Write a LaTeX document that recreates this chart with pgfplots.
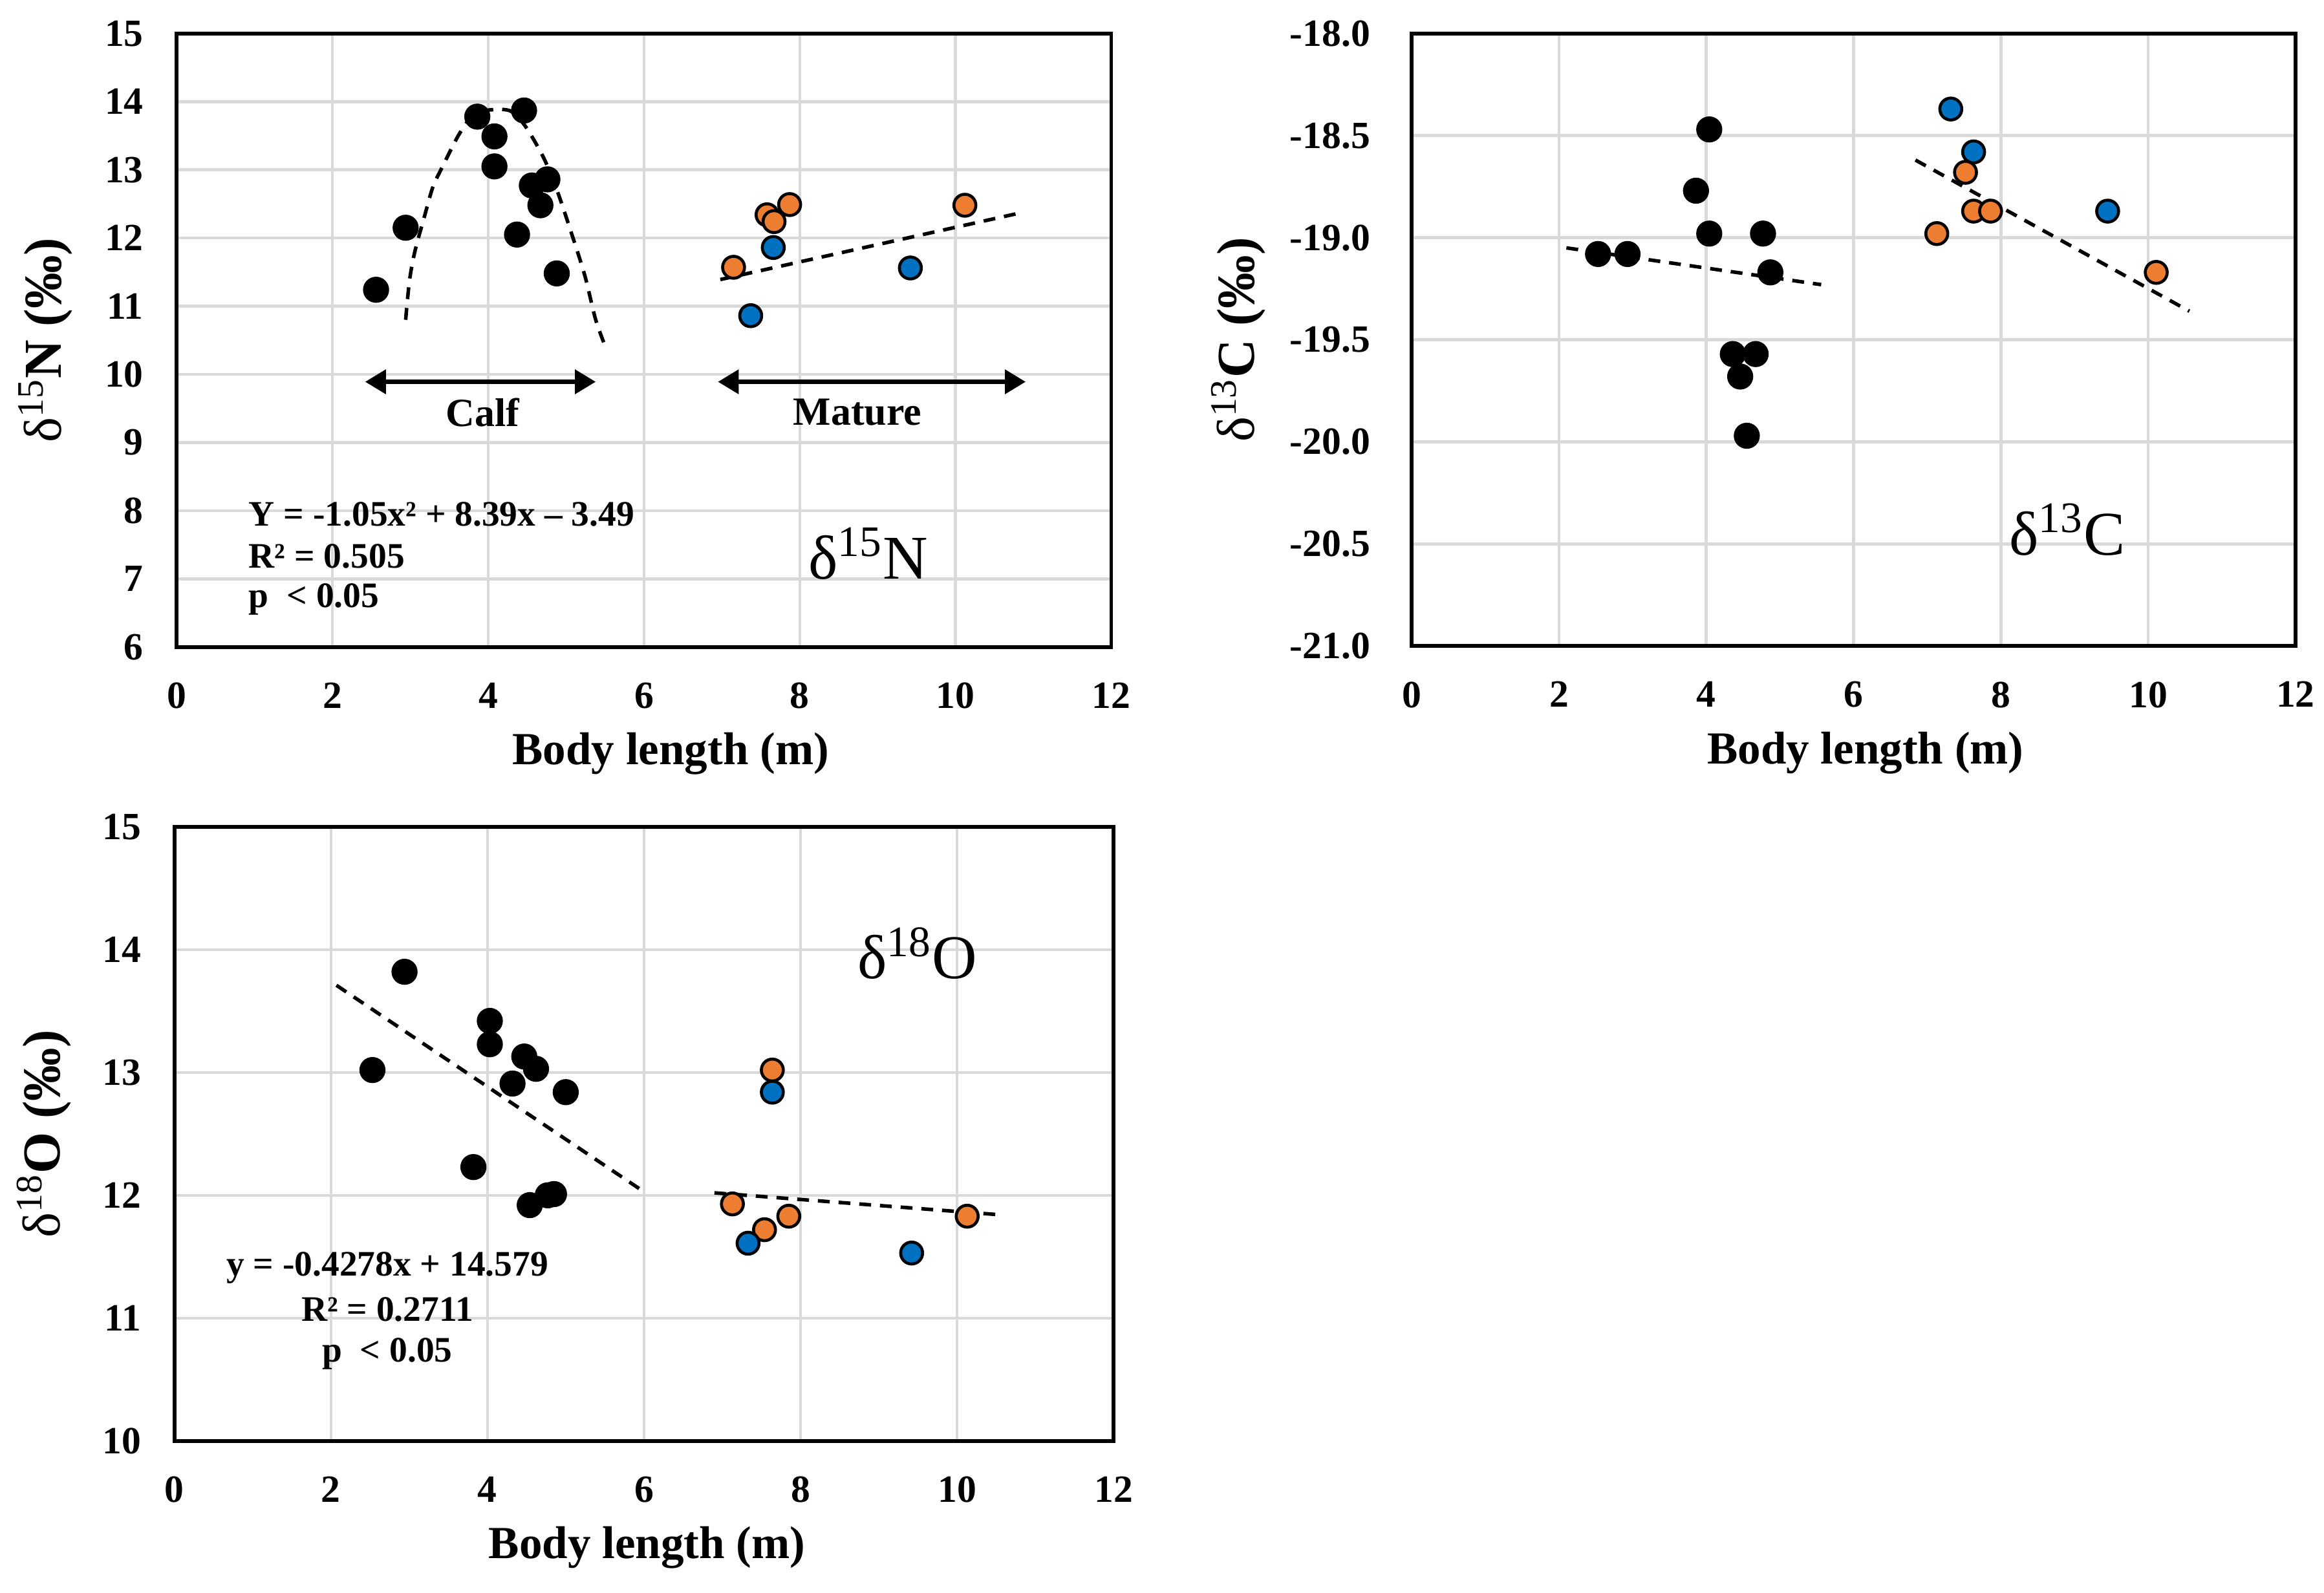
\documentclass[border=0pt]{standalone}
\usepackage{fontspec}
\setmainfont{Liberation Serif}
\usepackage{pgfplots}
\pgfplotsset{compat=1.18}
\usetikzlibrary{arrows.meta}
\definecolor{xorange}{HTML}{ED7D31}
\definecolor{xblue}{HTML}{0070C0}
\definecolor{gridgray}{HTML}{D9D9D9}

\pgfplotsset{
  panel/.style={
    scale only axis,
    axis line style={line width=1.25pt},
    grid=major,
    major grid style={gridgray, line width=1pt},
    major tick length=0pt,
    /pgf/number format/assume math mode=true,
    xmin=0, xmax=12, xtick={0,2,...,12},
    ticklabel style={font=\fontsize{13}{15}\selectfont\bfseries},
    xticklabel style={yshift=-8.5pt},
    xlabel={Body length (m)},
    clip=false,
  },
  xlab/.style={every axis x label/.style={at={(axis description cs:0.5,0)}, anchor=center, yshift=-36pt, xshift=#1,
      font=\fontsize{15.5}{18}\selectfont\bfseries}},
  ylab/.style={every axis y label/.style={at={(axis description cs:#1,0.5)}, rotate=90, anchor=center,
      font=\fontsize{18}{21}\selectfont\bfseries}},
  blk/.style={only marks, mark=*, mark size=4.2pt, mark options={fill=black, draw=black}},
  org/.style={only marks, mark=*, mark size=3.7pt, mark options={fill=xorange, draw=black, line width=1pt}},
  blu/.style={only marks, mark=*, mark size=3.7pt, mark options={fill=xblue, draw=black, line width=1pt}},
  trend/.style={black, line width=1.2pt, dash pattern=on 4pt off 3pt, no marks},
}

\begin{document}
\begin{tikzpicture}
\useasboundingbox (0,0) rectangle (784pt,537.3pt);

% ---------------- Panel 1: d15N ----------------
\begin{axis}[panel, at={(59.6pt,319pt)}, anchor=south west,
  width=315.3pt, height=207pt,
  ymin=6, ymax=15, ytick={6,7,...,15},
  yticklabel style={xshift=-7.7pt},
  xlab=9pt, ylab=-0.1405,
  ylabel={{\mdseries δ\textsuperscript{15}}N (‰)}]
\addplot[trend, smooth, tension=0.5] coordinates {
  (2.94,10.80) (2.99,11.38) (3.06,11.81) (3.18,12.31) (3.29,12.75) (3.41,13.04)
  (3.62,13.51) (3.80,13.80) (3.95,13.87) (4.27,13.87) (4.47,13.65) (4.71,13.18)
  (4.88,12.71) (5.06,12.10) (5.24,11.45) (5.38,10.80) (5.52,10.36)};
\addplot[trend] coordinates {(6.98,11.39) (10.84,12.37)};
\addplot[blk] coordinates {
  (2.56,11.24) (2.94,12.15) (3.86,13.78) (4.46,13.87) (4.08,13.49) (4.08,13.05)
  (4.56,12.77) (4.76,12.86) (4.67,12.48) (4.37,12.05) (4.88,11.48)};
\addplot[org] coordinates {(7.15,11.57) (7.58,12.34) (7.67,12.24) (7.87,12.49) (10.12,12.48)};
\addplot[blu] coordinates {(7.66,11.86) (7.37,10.86) (9.42,11.56)};
\addplot[black, line width=1.5pt, {Triangle[length=7pt,width=8pt]}-{Triangle[length=7pt,width=8pt]}]
  coordinates {(2.42,9.89) (5.38,9.89)};
\addplot[black, line width=1.5pt, {Triangle[length=7pt,width=8pt]}-{Triangle[length=7pt,width=8pt]}]
  coordinates {(6.95,9.89) (10.90,9.89)};
\node[font=\fontsize{13.5}{16}\selectfont\bfseries] at (axis cs:3.93,9.44) {Calf};
\node[font=\fontsize{13.5}{16}\selectfont\bfseries] at (axis cs:8.74,9.44) {Mature};
\node[anchor=west, font=\fontsize{12.1}{14}\selectfont\bfseries, inner sep=0pt] at (axis cs:0.92,7.95) {Y = -1.05x² + 8.39x – 3.49};
\node[anchor=west, font=\fontsize{12.1}{14}\selectfont\bfseries, inner sep=0pt] at (axis cs:0.92,7.33) {R² = 0.505};
\node[anchor=west, font=\fontsize{12.1}{14}\selectfont\bfseries, inner sep=0pt] at (axis cs:0.92,6.70) {p\ \ < 0.05};
\node[font=\fontsize{21}{24}\selectfont] at (axis cs:8.88,7.37) {δ\textsuperscript{15}N};
\end{axis}

% ---------------- Panel 2: d13C ----------------
\begin{axis}[panel, at={(476.25pt,319.3pt)}, anchor=south west,
  width=298.1pt, height=206.7pt,
  ymin=-21, ymax=-18, ytick={-21,-20.5,...,-18},
  yticklabel style={xshift=-10.5pt, /pgf/number format/.cd, fixed, fixed zerofill, precision=1},
  xlab=4pt, ylab=-0.1962,
  ylabel={{\mdseries δ\textsuperscript{13}}C (‰)}]
\addplot[trend] coordinates {(2.10,-19.05) (5.56,-19.23)};
\addplot[trend] coordinates {(6.84,-18.62) (10.56,-19.36)};
\addplot[blk] coordinates {
  (2.53,-19.08) (2.93,-19.08) (3.86,-18.77) (4.04,-18.47) (4.04,-18.98) (4.36,-19.57)
  (4.46,-19.68) (4.55,-19.97) (4.67,-19.57) (4.77,-18.98) (4.87,-19.17)};
\addplot[org] coordinates {(7.52,-18.68) (7.63,-18.87) (7.86,-18.87) (7.13,-18.98) (10.11,-19.17)};
\addplot[blu] coordinates {(7.32,-18.37) (7.63,-18.58) (9.45,-18.87)};
\node[font=\fontsize{21}{24}\selectfont] at (axis cs:8.9,-20.43) {δ\textsuperscript{13}C};
\end{axis}

% ---------------- Panel 3: d18O ----------------
\begin{axis}[panel, at={(58.85pt,51.1pt)}, anchor=south west,
  width=316.8pt, height=207.2pt,
  ymin=10, ymax=15, ytick={10,11,...,15},
  yticklabel style={xshift=-7.7pt},
  xlab=1pt, ylab=-0.1389,
  ylabel={{\mdseries δ\textsuperscript{18}}O (‰)}]
\addplot[trend] coordinates {(2.07,13.71) (6.02,12.02)};
\addplot[trend] coordinates {(6.90,12.02) (10.58,11.84)};
\addplot[blk] coordinates {
  (2.94,13.82) (2.53,13.02) (4.03,13.42) (4.03,13.23) (4.47,13.13) (4.32,12.91)
  (4.62,13.03) (5.00,12.84) (3.82,12.23) (4.54,11.92) (4.77,12.00) (4.85,12.01)};
\addplot[org] coordinates {(7.64,13.02) (7.13,11.93) (7.54,11.72) (7.85,11.83) (10.13,11.83)};
\addplot[blu] coordinates {(7.64,12.84) (7.33,11.61) (9.42,11.53)};
\node[font=\fontsize{12.1}{14}\selectfont\bfseries] at (axis cs:2.72,11.41) {y = -0.4278x + 14.579};
\node[font=\fontsize{12.1}{14}\selectfont\bfseries] at (axis cs:2.72,11.07) {R² = 0.2711};
\node[font=\fontsize{12.1}{14}\selectfont\bfseries] at (axis cs:2.72,10.71) {p\ \ < 0.05};
\node[font=\fontsize{21}{24}\selectfont] at (axis cs:9.49,13.97) {δ\textsuperscript{18}O};
\end{axis}
\end{tikzpicture}
\end{document}
